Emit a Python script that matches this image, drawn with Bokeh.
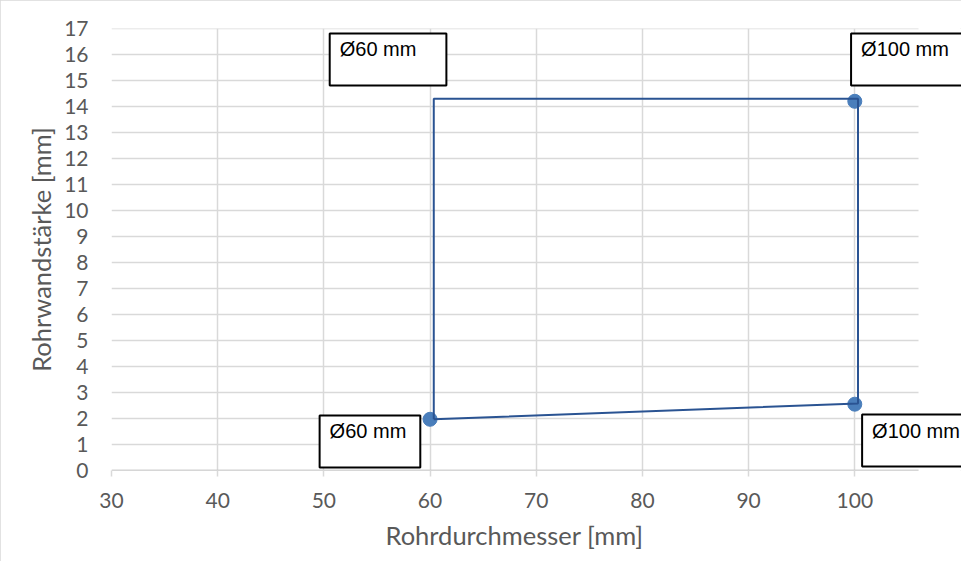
from bokeh.plotting import figure
from bokeh.models import Label, FixedTicker, Range1d, Title
from bokeh.embed import file_html
from bokeh.resources import INLINE

# --- data ---
diam_pts = [60, 100, 100]
wall_pts = [1.97, 2.55, 14.2]
frame_x = [60.35, 60.35, 100.3, 100.3, 60.35]
frame_y = [1.97, 14.3, 14.3, 2.58, 1.97]
label_texts = ["Ø60 mm", "Ø100 mm", "Ø60 mm", "Ø100 mm"]
x_ticks = [30, 40, 50, 60, 70, 80, 90, 100]
y_ticks = list(range(0, 18))
X_MIN, X_MAX = 30, 106
Y_MIN, Y_MAX = 0, 17

TICK_FONT = "Lato"
GRID = "#d9d9d9"
TXT = "#595959"
TITLE_SIZE = "25.5px"

FRAME_W = 850          # frame extends to the right edge so the labels are not cut
PLOT_W = 807           # width of the gridded plot area (30..106)
x_end = X_MIN + FRAME_W * (X_MAX - X_MIN) / PLOT_W

p = figure(width=961, height=561, x_range=Range1d(X_MIN, x_end), y_range=Range1d(Y_MIN, Y_MAX),
           output_backend="svg", toolbar_location=None,
           min_border_left=111, min_border_right=0, min_border_top=28, min_border_bottom=91)
p.outline_line_color = None
p.background_fill_color = "white"
p.border_fill_color = "white"
p.styles = {"outline": "1px solid #d9d9d9", "outline-offset": "-1px"}

p.xaxis.ticker = FixedTicker(ticks=x_ticks)
p.yaxis.ticker = FixedTicker(ticks=y_ticks)
p.xgrid.grid_line_color = GRID
p.xgrid.grid_line_width = 1.5
p.ygrid.grid_line_color = None

# horizontal grid lines limited to the plot area
n = len(y_ticks)
p.segment(x0=[X_MIN] * n, y0=y_ticks, x1=[X_MAX] * n, y1=y_ticks,
          line_color=GRID, line_width=1.5)

for ax in (p.xaxis[0], p.yaxis[0]):
    ax.major_label_text_font = TICK_FONT
    ax.major_label_text_font_size = "21px"
    ax.major_label_text_color = TXT
    ax.axis_label_text_font = TICK_FONT
    ax.axis_label_text_font_size = TITLE_SIZE
    ax.axis_label_text_color = TXT
    ax.axis_label_text_font_style = "normal"
    ax.minor_tick_line_color = None

p.xaxis.axis_line_color = None
p.xaxis.major_tick_line_color = GRID
p.xaxis.major_tick_line_width = 1.5
p.xaxis.major_tick_out = 6
p.xaxis.major_tick_in = 0
p.xaxis.major_label_standoff = 16

p.yaxis.axis_label = "Rohrwandstärke [mm]"
p.yaxis.axis_line_color = None
p.yaxis.major_tick_line_color = None
p.yaxis.major_tick_out = 0
p.yaxis.major_tick_in = 0
p.yaxis.major_label_standoff = 23
p.yaxis.axis_label_standoff = 5

# x axis line, limited to the plot area
p.segment(x0=[X_MIN], y0=[Y_MIN], x1=[X_MAX], y1=[Y_MIN], line_color="#bfbfbf", line_width=1.5)

# x axis title, centred under the plot area (not under the widened frame)
p.add_layout(Title(text="Rohrdurchmesser [mm]", align="left", offset=274, standoff=15,
                   text_font=TICK_FONT, text_font_size=TITLE_SIZE, text_color=TXT,
                   text_font_style="normal"), "below")

p.scatter(diam_pts, wall_pts, size=14, color="#4a7ebb", line_color="#4a7ebb")
p.line(frame_x, frame_y, line_color="#2a5392", line_width=2)

# label boxes: (box top-left x, y in data units, pad left, right, top, bottom)
boxes = [
    (50.55, 16.81, 10, 30, 5, 25),
    (99.65, 16.81, 10, 30, 5, 25),
    (49.60, 2.12, 10, 14, 5, 25),
    (100.69, 2.15, 10, 30, 5, 25),
]
for txt, (bx, by, pl, pr, pt, pb) in zip(label_texts, boxes):
    p.add_layout(Label(x=bx, y=by, text=txt,
                       text_align="left", text_baseline="top",
                       text_font="Liberation Sans", text_font_size="20px", text_color="black",
                       padding=dict(left=pl, right=pr, top=pt, bottom=pb),
                       border_line_color="black", border_line_width=2,
                       background_fill_color="white"))

open("out.html", "w").write(file_html(p, INLINE))
